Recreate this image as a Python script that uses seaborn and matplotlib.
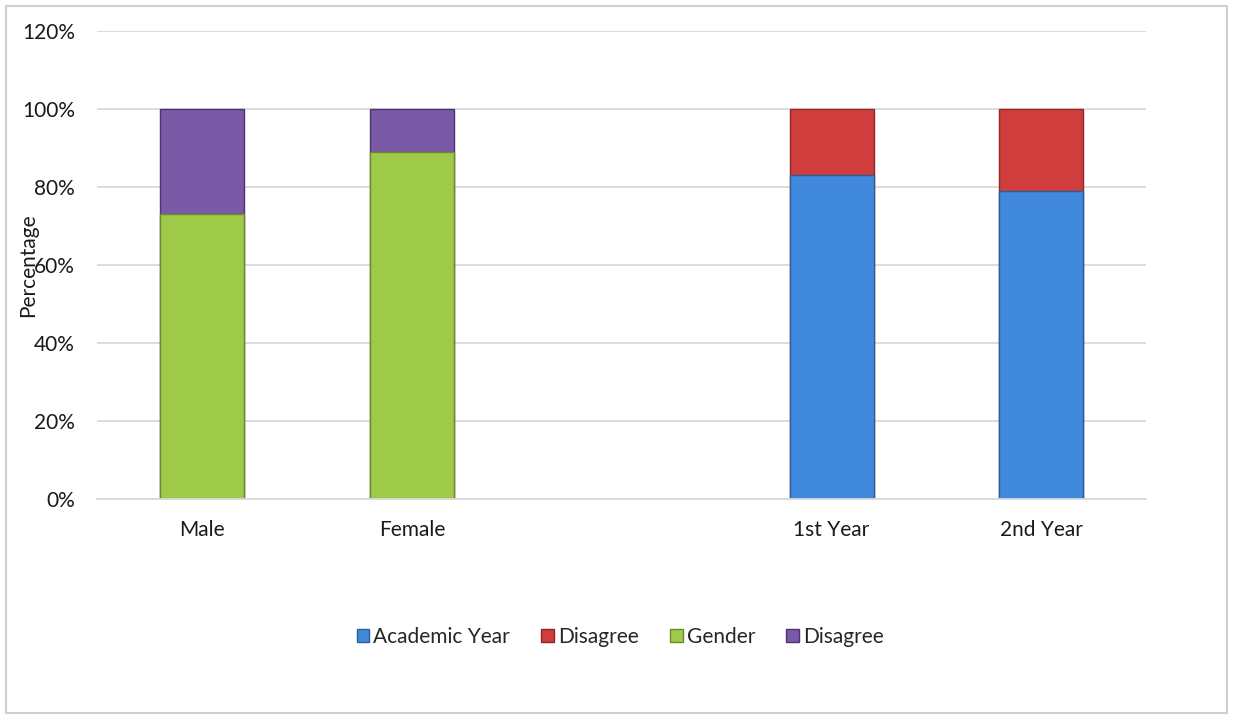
import matplotlib
matplotlib.use("Agg")
import matplotlib.pyplot as plt
from matplotlib.patches import Patch, Rectangle
import seaborn as sns
import pandas as pd

# Category slots on the x axis (blank slot separates the two groups)
categories = ["Male", "Female", " ", "1st Year", "2nd Year"]

gender_groups = ["Male", "Female"]
gender_agree = [73, 89]
gender_disagree = [27, 11]

year_groups = ["1st Year", "2nd Year"]
year_agree = [83, 79]
year_disagree = [17, 21]

y_ticks = [0, 20, 40, 60, 80, 100, 120]
y_tick_labels = ["0%", "20%", "40%", "60%", "80%", "100%", "120%"]

legend_labels = ["Academic Year", "Disagree", "Gender", "Disagree"]

BLUE, BLUE_EDGE = "#4089DC", "#2A5E9C"
RED, RED_EDGE = "#CF3E3C", "#8E2726"
GREEN, GREEN_EDGE = "#9FC948", "#6B8A2C"
PURPLE, PURPLE_EDGE = "#7A59A6", "#4B3470"

FS = 15

sns.set_theme(style="white")
plt.rcParams["font.family"] = ["Lato", "DejaVu Sans"]

gender_df = pd.DataFrame({
    "group": gender_groups,
    "agree": gender_agree,
    "total": [a + d for a, d in zip(gender_agree, gender_disagree)],
})
year_df = pd.DataFrame({
    "group": year_groups,
    "agree": year_agree,
    "total": [a + d for a, d in zip(year_agree, year_disagree)],
})

fig = plt.figure(figsize=(12.33, 7.19), dpi=100)
ax = fig.add_axes([0.0787, 0.306, 0.851, 0.651])

bar_kw = dict(order=categories, width=0.4, linewidth=1.0, ax=ax, errorbar=None)

# Stacked bars: full height in the "disagree" colour, the agree share drawn over it
sns.barplot(data=gender_df, x="group", y="total", color=PURPLE,
            edgecolor=PURPLE_EDGE, saturation=1, **bar_kw)
sns.barplot(data=gender_df, x="group", y="agree", color=GREEN,
            edgecolor=GREEN_EDGE, saturation=1, **bar_kw)
sns.barplot(data=year_df, x="group", y="total", color=RED,
            edgecolor=RED_EDGE, saturation=1, **bar_kw)
sns.barplot(data=year_df, x="group", y="agree", color=BLUE,
            edgecolor=BLUE_EDGE, saturation=1, **bar_kw)

ax.set_xlim(-0.5, len(categories) - 0.5)
ax.set_ylim(0, 120)
ax.set_yticks(y_ticks)
ax.set_yticklabels(y_tick_labels)
ax.yaxis.grid(True, color="#D9D9D9", linewidth=1.3)
ax.set_axisbelow(True)
for side in ["left", "right", "top"]:
    ax.spines[side].set_visible(False)
ax.spines["bottom"].set_color("#D9D9D9")
ax.spines["bottom"].set_linewidth(1.3)
ax.tick_params(axis="both", length=0, labelsize=FS, colors="#1A1A1A")
ax.tick_params(axis="x", pad=15)
ax.tick_params(axis="y", pad=16)
ax.set_xlabel("")
ax.set_ylabel("Percentage", fontsize=FS, color="#1A1A1A")
ax.yaxis.set_label_coords(-0.056, 0.5)

handles = [
    Patch(facecolor=BLUE, edgecolor=BLUE_EDGE),
    Patch(facecolor=RED, edgecolor=RED_EDGE),
    Patch(facecolor=GREEN, edgecolor=GREEN_EDGE),
    Patch(facecolor=PURPLE, edgecolor=PURPLE_EDGE),
]
fig.legend(handles, legend_labels, loc="center", bbox_to_anchor=(0.503, 0.114),
           ncol=4, frameon=False, fontsize=FS, handlelength=0.6,
           handleheight=0.6, handletextpad=0.2, columnspacing=1.5)

# Chart area border
fig.patches.append(Rectangle((0.005, 0.008), 0.99, 0.984, transform=fig.transFigure,
                             fill=False, edgecolor="#D0D0D0", linewidth=1.5))

fig.savefig("out.png", dpi=100, facecolor="white")
